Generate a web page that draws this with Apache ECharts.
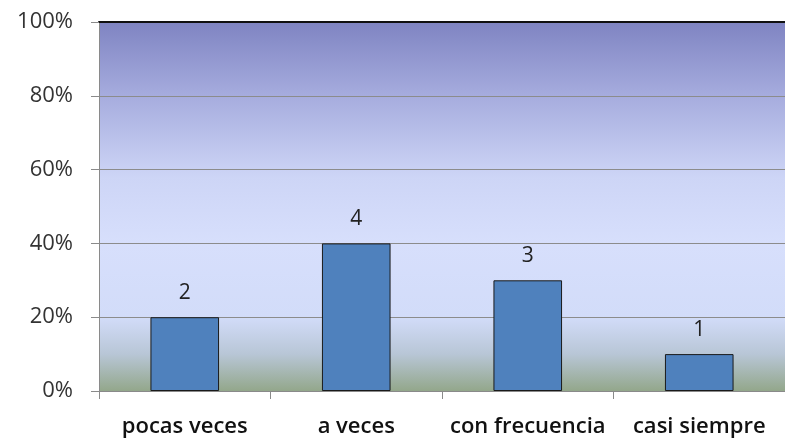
<!DOCTYPE html>
<html>
<head>
<meta charset="utf-8">
<script src="https://cdn.jsdelivr.net/npm/echarts@6/dist/echarts.min.js"></script>
<style>
html,body{margin:0;padding:0;background:#fff;}
#chart{width:785px;height:438px;}
</style>
</head>
<body>
<div id="chart"></div>
<script>
var categories = ['pocas veces', 'a veces', 'con frecuencia', 'casi siempre'];
var percents = [20, 40, 30, 10];
var counts = [2, 4, 3, 1];

var myChart = echarts.init(document.getElementById('chart'));

var barData = [];
for (var i = 0; i < percents.length; i++) {
	barData.push({value: percents[i], count: counts[i]});
}

var option = {
	animation: false,
	grid: {
		left: 99,
		right: -3,
		top: 22,
		bottom: 47,
		show: true,
		borderWidth: 0,
		backgroundColor: {
			type: 'linear', x: 0, y: 0, x2: 0, y2: 1,
			colorStops: [
				{offset: 0, color: '#7f84c2'},
				{offset: 0.2, color: '#a6acde'},
				{offset: 0.42, color: '#cdd5f6'},
				{offset: 0.6, color: '#d7dffc'},
				{offset: 0.8, color: '#d2dcf9'},
				{offset: 0.9, color: '#b8c6d6'},
				{offset: 1, color: '#93a78b'}
			]
		}
	},
	xAxis: [{
		type: 'category',
		data: categories,
		axisLine: {lineStyle: {color: '#8a8a8a', width: 1}},
		axisTick: {show: true, interval: 0, length: 8, lineStyle: {color: '#8a8a8a'}},
		axisLabel: {
			interval: 0,
			color: '#111',
			fontFamily: 'Open Sans',
			fontWeight: 600,
			fontSize: 22,
			margin: 25
		}
	}, {
		type: 'category',
		position: 'top',
		data: categories,
		axisLine: {lineStyle: {color: '#111', width: 2}},
		axisTick: {show: false},
		axisLabel: {show: false}
	}],
	yAxis: {
		type: 'value',
		min: 0,
		max: 100,
		interval: 20,
		axisLine: {show: true, lineStyle: {color: '#8a8a8a'}},
		axisTick: {show: true, length: 8, lineStyle: {color: '#8a8a8a'}},
		splitLine: {lineStyle: {color: '#8c8c8c', width: 1}},
		axisLabel: {
			color: '#333',
			fontFamily: 'Open Sans',
			fontSize: 22,
			margin: 26,
			formatter: function (v) { return v + '%'; }
		}
	},
	series: [{
		type: 'bar',
		data: barData,
		barWidth: '40%',
		itemStyle: {
			color: '#4f81bd',
			borderColor: '#1a1a1a',
			borderWidth: 1
		},
		label: {
			show: true,
			position: 'top',
			distance: 14,
			color: '#222',
			fontFamily: 'Open Sans',
			fontSize: 21,
			formatter: function (p) { return p.data.count; }
		}
	}]
};
myChart.setOption(option);
</script>
</body>
</html>
